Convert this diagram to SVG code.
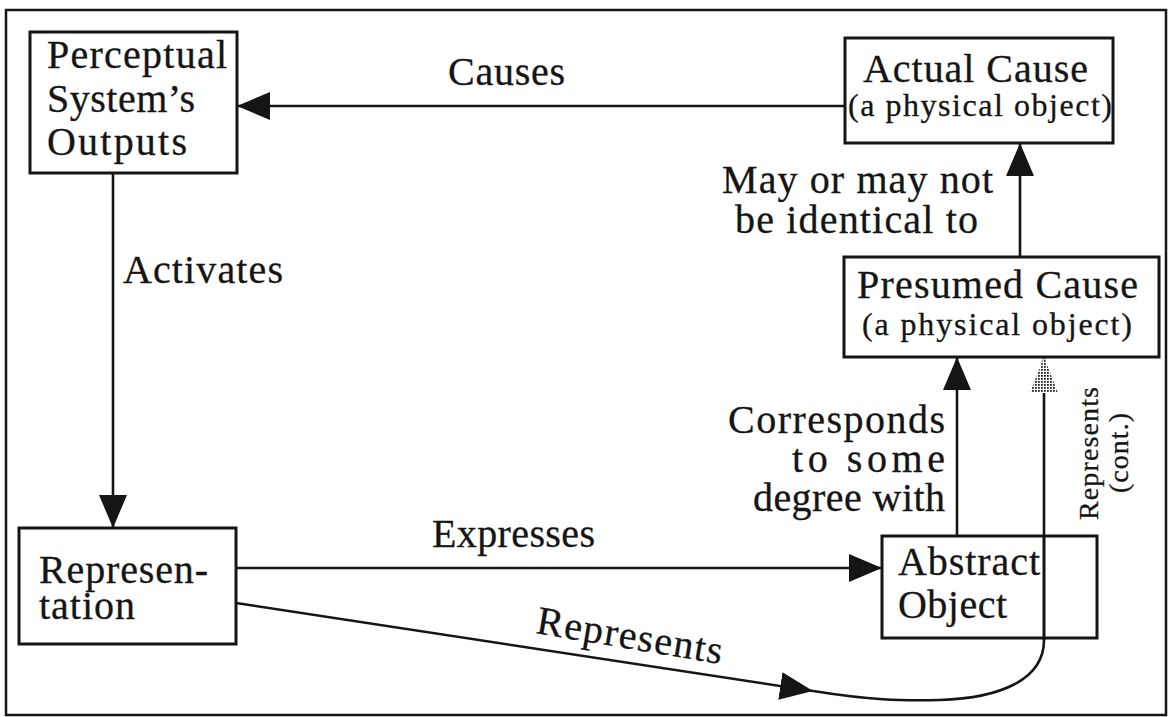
<svg xmlns="http://www.w3.org/2000/svg" width="1169" height="717" viewBox="0 0 1169 717">
<style>
.box{fill:#fff;stroke:#151515;stroke-width:3}
.frame{fill:#fff;stroke:#151515;stroke-width:2.5}
.t{font-family:"Liberation Serif","Times New Roman",serif;font-size:40px;fill:#151515;stroke:#151515;stroke-width:0.3}
.s{font-size:32px}
.v{font-size:28px}
.c{stroke:#151515;stroke-width:2.6;fill:none}
.arr{marker-end:url(#ah)}
</style>
<defs>
<marker id="ah" viewBox="0 0 33 28" refX="33" refY="14" markerWidth="33" markerHeight="28" markerUnits="userSpaceOnUse" orient="auto">
<path d="M0,0 L33,14 L0,28 Z" fill="#151515"/>
</marker>
<pattern id="hatch" patternUnits="userSpaceOnUse" width="3" height="3">
<rect width="3" height="3" fill="#fff"/>
<rect width="1.8" height="1.8" fill="#222"/>
</pattern>
</defs>
<rect class="frame" x="6" y="10" width="1160" height="705"/>

<g id="connectors">
<path class="c arr" d="M845,106 L237,106"/>
<path class="c arr" d="M113,173 L113,528"/>
<path class="c arr" d="M236,568 L882,568"/>
<path class="c arr" d="M1020,257 L1020,143"/>
<path class="c arr" d="M957,536 L957,357"/>
<path class="c arr" d="M236,603 L813,691"/>
<path class="c" d="M813,691 C870,700 900,701 940,700 C1000,698 1044,680 1044,640 L1044,357"/>
<polygon points="1044,357 1058,393 1030,393" fill="url(#hatch)"/>
<text class="t" x="448" y="85" textLength="117" lengthAdjust="spacing">Causes</text>
<text class="t" x="123" y="283" textLength="160" lengthAdjust="spacing">Activates</text>
<text class="t" x="432" y="547" textLength="163" lengthAdjust="spacing">Expresses</text>
<text class="t" x="722" y="193" textLength="271" lengthAdjust="spacing">May or may not</text>
<text class="t" x="735" y="233" textLength="243" lengthAdjust="spacing">be identical to</text>
<text class="t" x="728" y="433" textLength="217" lengthAdjust="spacing">Corresponds</text>
<text class="t" x="792" y="472" textLength="153" lengthAdjust="spacing">to some</text>
<text class="t" x="753" y="511" textLength="192" lengthAdjust="spacing">degree with</text>
<text class="t" font-size="37" transform="translate(535,633) rotate(9.5)" textLength="188" lengthAdjust="spacing">Represents</text>
<text class="t v" transform="translate(1098,520) rotate(-90)" textLength="133" lengthAdjust="spacing">Represents</text>
<text class="t v" transform="translate(1128,493) rotate(-90)" textLength="80" lengthAdjust="spacing">(cont.)</text>
</g>

<g id="perceptual">
<rect class="box" x="30" y="32" width="207" height="141"/>
<text class="t" x="47" y="68" textLength="180" lengthAdjust="spacing">Perceptual</text>
<text class="t" x="47" y="112" textLength="148" lengthAdjust="spacing">System’s</text>
<text class="t" x="47" y="155" textLength="140" lengthAdjust="spacing">Outputs</text>
</g>

<g id="actual-cause">
<rect class="box" x="845" y="38" width="268" height="105"/>
<text class="t" x="863" y="82" textLength="225" lengthAdjust="spacing">Actual Cause</text>
<text class="t s" x="848" y="116" textLength="264" lengthAdjust="spacing">(a physical object)</text>
</g>

<g id="presumed-cause">
<rect class="box" x="844" y="257" width="315" height="100"/>
<text class="t" x="857" y="298" textLength="281" lengthAdjust="spacing">Presumed Cause</text>
<text class="t s" x="862" y="335" textLength="270" lengthAdjust="spacing">(a physical object)</text>
</g>

<g id="representation">
<rect class="box" x="19" y="528" width="217" height="116"/>
<text class="t" font-size="38" x="39" y="583" textLength="169" lengthAdjust="spacing">Represen-</text>
<text class="t" font-size="38" x="39" y="619" textLength="96" lengthAdjust="spacing">tation</text>
</g>

<g id="abstract-object">
<rect class="box" x="882" y="536" width="215" height="102" style="fill:none"/>
<text class="t" x="898" y="575" textLength="142" lengthAdjust="spacing">Abstract</text>
<text class="t" x="898" y="618" textLength="109" lengthAdjust="spacing">Object</text>
</g>
<path class="c" d="M1044,536 L1044,640"/>
</svg>
